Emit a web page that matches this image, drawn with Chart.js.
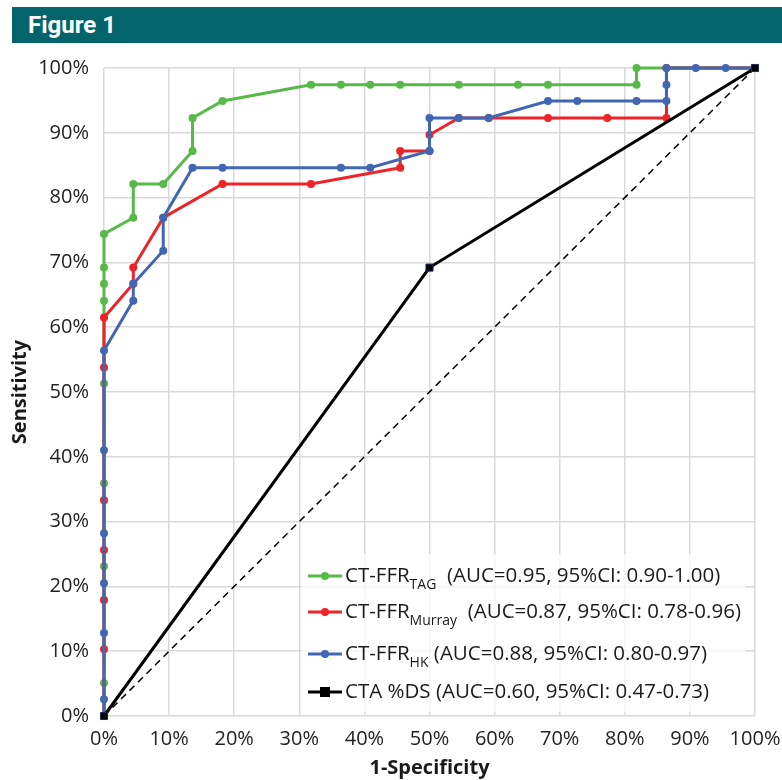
<!DOCTYPE html>
<html>
<head>
<meta charset="utf-8">
<script src="https://cdn.jsdelivr.net/npm/chart.js@4"></script>
<style>
  html, body { margin: 0; padding: 0; background: #fff; }
  body { width: 782px; height: 780px; position: relative; overflow: hidden; }
  #header {
    position: absolute; left: 12px; top: 7px; width: 770px; height: 36px;
    background: #03646b; color: #fff;
    font-family: "Liberation Sans Narrow", "Roboto", sans-serif; font-weight: bold;
    font-size: 24px; line-height: 36px; padding-left: 16px; box-sizing: border-box;
  }
  #wrap { position: absolute; left: 0; top: 43px; width: 782px; height: 737px; }
</style>
</head>
<body>
<div id="header">Figure 1</div>
<div id="wrap"><canvas id="roc" width="782" height="737"></canvas></div>
<script>
// ROC points, 1-specificity (%) and sensitivity (%)
const tagX    = [0, 0, 0, 0, 0, 0, 0, 0, 0, 4.5, 4.5, 9.1, 13.6, 13.6, 18.2, 31.8, 36.4, 40.9, 45.5, 54.5, 63.6, 68.2, 81.8, 81.8, 100];
const tagY    = [0, 5.1, 23.1, 35.9, 51.3, 64.1, 66.7, 69.2, 74.4, 76.9, 82.1, 82.1, 87.2, 92.3, 94.9, 97.4, 97.4, 97.4, 97.4, 97.4, 97.4, 97.4, 97.4, 100, 100];

const murrayX = [0, 0, 0, 0, 0, 0, 0, 4.5, 4.5, 9.1, 18.2, 31.8, 45.5, 45.5, 50, 50, 54.5, 59.1, 68.2, 77.3, 86.4, 86.4, 100];
const murrayY = [0, 10.3, 17.9, 25.6, 33.3, 53.8, 61.5, 66.7, 69.2, 76.9, 82.1, 82.1, 84.6, 87.2, 87.2, 89.7, 92.3, 92.3, 92.3, 92.3, 92.3, 100, 100];

const hkX     = [0, 0, 0, 0, 0, 0, 0, 4.5, 4.5, 9.1, 9.1, 13.6, 18.2, 36.4, 40.9, 50, 50, 54.5, 59.1, 68.2, 72.7, 81.8, 86.4, 86.4, 86.4, 90.9, 95.5, 100];
const hkY     = [0, 2.6, 12.8, 20.5, 28.2, 41.0, 56.4, 64.1, 66.7, 71.8, 76.9, 84.6, 84.6, 84.6, 84.6, 87.2, 92.3, 92.3, 92.3, 94.9, 94.9, 94.9, 94.9, 97.4, 100, 100, 100, 100];

const ctaX    = [0, 50, 100];
const ctaY    = [0, 69.2, 100];

const refX    = [0, 100];
const refY    = [0, 100];

const axisTicks = [0, 10, 20, 30, 40, 50, 60, 70, 80, 90, 100];

const legendRows = [
  { color: '#57b947', main: 'CT-FFR', sub: 'TAG',    rest: '  (AUC=0.95, 95%CI: 0.90-1.00)', marker: 'circle' },
  { color: '#ed2327', main: 'CT-FFR', sub: 'Murray', rest: '  (AUC=0.87, 95%CI: 0.78-0.96)', marker: 'circle' },
  { color: '#4267b2', main: 'CT-FFR', sub: 'HK',     rest: ' (AUC=0.88, 95%CI: 0.80-0.97)', marker: 'circle' },
  { color: '#000000', main: 'CTA %DS', sub: '',      rest: ' (AUC=0.60, 95%CI: 0.47-0.73)', marker: 'rect' }
];

const FONT = '"Open Sans", "Liberation Sans", sans-serif';

function pts(xs, ys) {
  return xs.map((x, i) => ({ x: x, y: ys[i] }));
}

function rocSet(xs, ys, color, order, style) {
  return {
    data: pts(xs, ys),
    borderColor: color,
    backgroundColor: color,
    pointBackgroundColor: color,
    pointBorderColor: color,
    pointStyle: style || 'circle',
    borderWidth: 3,
    pointRadius: 4,
    pointHoverRadius: 4,
    pointBorderWidth: 0,
    showLine: true,
    tension: 0,
    clip: false,
    order: order
  };
}

// legend drawn inside the plot, with subscripts
const insideLegend = {
  id: 'insideLegend',
  afterDatasetsDraw(chart) {
    const ctx = chart.ctx;
    const area = chart.chartArea;
    const x0 = area.left + 204;
    const rowsY = [area.bottom - 140, area.bottom - 104, area.bottom - 62, area.bottom - 24];
    const size = 20.5;
    ctx.save();
    ctx.fillStyle = 'rgba(255,255,255,0.75)';
    ctx.fillRect(x0 - 6, area.bottom - 162, area.right - x0 - 4, 158);
    legendRows.forEach((row, i) => {
      const y = rowsY[i];
      ctx.strokeStyle = row.color;
      ctx.lineWidth = 3;
      ctx.beginPath();
      ctx.moveTo(x0, y);
      ctx.lineTo(x0 + 34, y);
      ctx.stroke();
      ctx.fillStyle = row.color;
      if (row.marker === 'rect') {
        ctx.fillRect(x0 + 12, y - 5, 10, 10);
      } else {
        ctx.beginPath();
        ctx.arc(x0 + 17, y, 4, 0, Math.PI * 2);
        ctx.fill();
      }
      ctx.fillStyle = '#1a1a1a';
      ctx.textBaseline = 'middle';
      let tx = x0 + 37;
      ctx.font = size + 'px ' + FONT;
      ctx.fillText(row.main, tx, y);
      tx += ctx.measureText(row.main).width;
      if (row.sub) {
        ctx.font = Math.round(size * 0.68) + 'px ' + FONT;
        ctx.fillText(row.sub, tx, y + 9);
        tx += ctx.measureText(row.sub).width;
      }
      ctx.font = size + 'px ' + FONT;
      ctx.fillText(row.rest, tx, y);
    });
    ctx.restore();
  }
};

const tickFont = { family: FONT, size: 20 };
const titleFont = { family: FONT, size: 20, weight: 'bold' };

new Chart(document.getElementById('roc'), {
  type: 'scatter',
  data: {
    datasets: [
      Object.assign(rocSet(ctaX, ctaY, '#000000', 0, 'rect'), { pointRadius: 5, pointBorderWidth: 1, pointBorderColor: '#1f2a55' }),
      rocSet(hkX, hkY, '#4267b2', 1),
      rocSet(murrayX, murrayY, '#ed2327', 2),
      rocSet(tagX, tagY, '#57b947', 3),
      {
        data: pts(refX, refY),
        borderColor: '#000000',
        backgroundColor: '#000000',
        borderWidth: 1.5,
        borderDash: [7, 5],
        pointRadius: 0,
        pointHoverRadius: 0,
        showLine: true,
        order: 4
      }
    ]
  },
  options: {
    responsive: false,
    animation: false,
    devicePixelRatio: 1,
    events: [],
    layout: { padding: { top: 25, right: 27, left: 0, bottom: 0 } },
    plugins: { legend: { display: false }, tooltip: { enabled: false } },
    scales: {
      x: {
        type: 'linear', min: 0, max: 100,
        afterBuildTicks: (s) => { s.ticks = axisTicks.map(v => ({ value: v })); },
        afterFit: (s) => { s.height = 64; s.paddingLeft = 0; s.paddingRight = 0; },
        grid: { color: '#d9d9d9', lineWidth: 1.5, drawTicks: false },
        border: { display: false },
        ticks: { autoSkip: false, padding: 11, color: '#222', font: tickFont, maxRotation: 0, callback: v => v + '%' },
        title: { display: true, text: '1-Specificity', color: '#1a1a1a', font: titleFont, padding: { top: 0, bottom: 0 } }
      },
      y: {
        type: 'linear', min: 0, max: 100,
        afterBuildTicks: (s) => { s.ticks = axisTicks.map(v => ({ value: v })); },
        afterFit: (s) => { s.width = 104; s.paddingTop = 0; s.paddingBottom = 0; },
        grid: { color: '#d9d9d9', lineWidth: 1.5, drawTicks: false },
        border: { display: false },
        ticks: { autoSkip: false, padding: 15, color: '#222', font: tickFont, callback: v => v + '%' },
        title: { display: true, text: 'Sensitivity', color: '#1a1a1a', font: titleFont, padding: { top: 8, bottom: 0 } }
      }
    }
  },
  plugins: [insideLegend]
});
</script>
</body>
</html>
